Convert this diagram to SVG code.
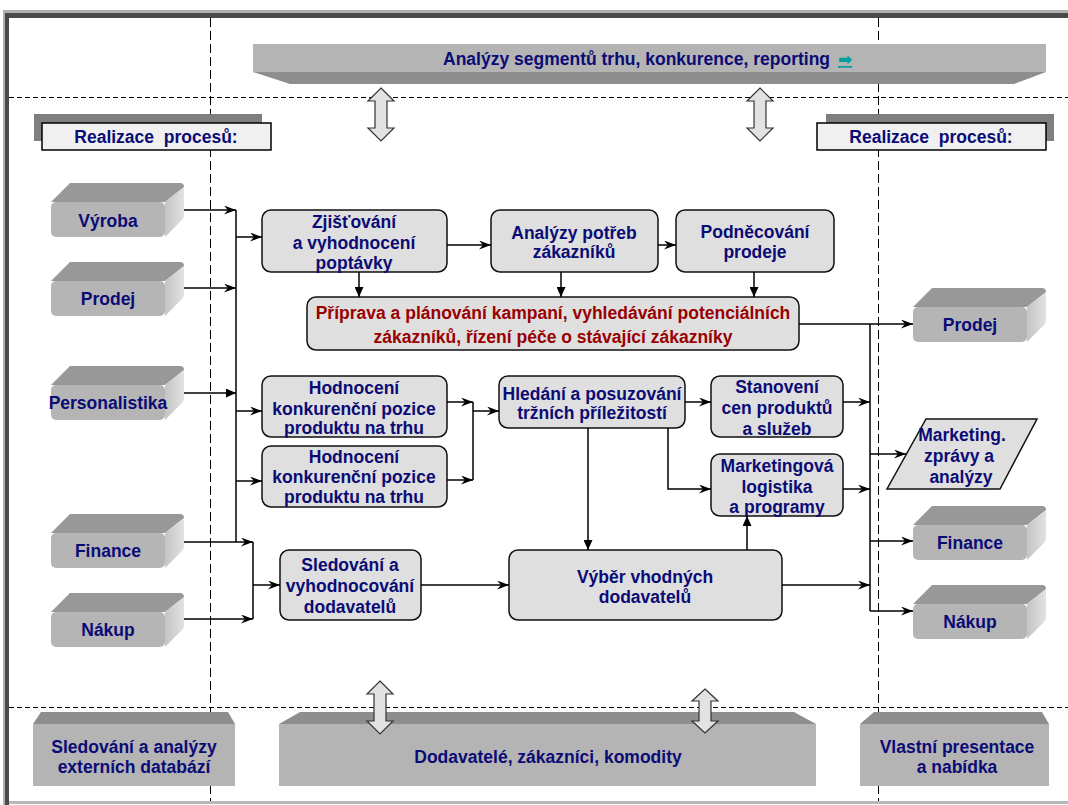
<svg xmlns="http://www.w3.org/2000/svg" width="1068" height="805" viewBox="0 0 1068 805">
<style>
.t{font-family:"Liberation Sans",Arial,sans-serif;font-weight:bold;font-size:17.5px;fill:#0b0b75;text-anchor:middle}
.red{fill:#990000}
.box{fill:#dfdfdf;stroke:#111;stroke-width:1.5}
.ln{fill:none;stroke:#000;stroke-width:1.5}
.arr{marker-end:url(#st)}
.arrt{marker-end:url(#tri)}
.dv{stroke:#000;stroke-width:1;stroke-dasharray:9 4;fill:none;shape-rendering:crispEdges}
.dh{stroke:#000;stroke-width:1;stroke-dasharray:5 3;fill:none;shape-rendering:crispEdges}
.top3{fill:#989898}
.front3{fill:#b5b5b5}
.side3{fill:url(#sg)}
.dbl{fill:#e2e2e2;stroke:#333;stroke-width:1.2}
.bev{fill:#8e8e8e}
.face{fill:#b4b4b4}
.real{fill:#f0f0f0;stroke:#000;stroke-width:1.5}
.shad{fill:#7f7f7f}
</style>
<defs>
<linearGradient id="sg" x1="0" y1="0" x2="1" y2="0">
<stop offset="0" stop-color="#c4c4c4"/>
<stop offset="1" stop-color="#e2e2e2"/>
</linearGradient>
<marker id="st" markerUnits="userSpaceOnUse" markerWidth="13" markerHeight="9" refX="12" refY="4.5" orient="auto">
<path d="M0,0 L12,4.5 L0,9 L4,4.5 Z" fill="#000"/>
</marker>
<marker id="tri" markerUnits="userSpaceOnUse" markerWidth="10" markerHeight="9" refX="10" refY="4.5" orient="auto">
<path d="M0,0 L10,4.5 L0,9 Z" fill="#000"/>
</marker>
<g id="b3d">
<path class="top3" d="M0,19 L19,0 L129,0 Q133,0 133,4 L114,19 Z"/>
<path class="side3" d="M114,19 L133,4 L133,33 Q133,35 131,37 L114,54 Z"/>
<rect class="front3" x="0" y="19" width="114" height="35" rx="5"/>
</g>
<path id="dbl" class="dbl" d="M0,0 L13,13 L6,13 L6,40 L13,40 L0,53 L-13,40 L-6,40 L-6,13 L-13,13 Z"/>
<path id="dbl2" class="dbl" d="M0,0 L13,12 L6,12 L6,32 L13,32 L0,44 L-13,32 L-6,32 L-6,12 L-13,12 Z"/>
</defs>

<rect x="0" y="0" width="1068" height="805" fill="#fff"/>
<g id="frame">
<rect x="3" y="10" width="1065" height="3" fill="#b0b0b0"/>
<rect x="3" y="13" width="1065" height="5" fill="#4a4a4a"/>
<rect x="3" y="10" width="2" height="795" fill="#b0b0b0"/>
<rect x="5" y="13" width="4" height="792" fill="#4a4a4a"/>
<rect x="9" y="801" width="1059" height="3" fill="#b8b8b8"/>
</g>

<g id="guides">
<line class="dv" x1="210.5" y1="18" x2="210.5" y2="801"/>
<line class="dv" x1="878.5" y1="18" x2="878.5" y2="801"/>
<line class="dh" x1="9" y1="97.5" x2="1068" y2="97.5"/>
<line class="dh" x1="9" y1="707.5" x2="1068" y2="707.5"/>
</g>

<g id="banner">
<rect class="face" x="253" y="44" width="793" height="28"/>
<polygon class="bev" points="253,72 1046,72 1014,84 290,84"/>
<text class="t" x="443" y="65" style="text-anchor:start">Analýzy segmentů trhu, konkurence, reporting</text>
<text x="838" y="65" style="font-family:'DejaVu Sans',sans-serif;font-size:17px;fill:#00a0a0;font-weight:bold;text-decoration:underline">➡</text>
</g>

<g id="realizace-left">
<rect class="shad" x="34" y="114" width="228" height="27"/>
<rect class="real" x="42" y="123" width="229" height="27"/>
<text class="t" x="156" y="143">Realizace&#160; procesů:</text>
</g>
<g id="realizace-right">
<rect class="shad" x="826" y="114" width="228" height="27"/>
<rect class="real" x="817" y="123" width="229" height="27"/>
<text class="t" x="931" y="143">Realizace&#160; procesů:</text>
</g>

<g id="l-vyroba"><use href="#b3d" x="51" y="183"/><text class="t" x="108" y="227">Výroba</text></g>
<g id="l-prodej"><use href="#b3d" x="51" y="262"/><text class="t" x="108" y="305">Prodej</text></g>
<g id="l-personalistika"><use href="#b3d" x="51" y="366"/><text class="t" x="108" y="409">Personalistika</text></g>
<g id="l-finance"><use href="#b3d" x="51" y="514"/><text class="t" x="108" y="557">Finance</text></g>
<g id="l-nakup"><use href="#b3d" x="51" y="593"/><text class="t" x="108" y="636">Nákup</text></g>

<g id="r-prodej"><use href="#b3d" x="913" y="288"/><text class="t" x="970" y="331">Prodej</text></g>
<g id="r-finance"><use href="#b3d" x="913" y="506"/><text class="t" x="970" y="549">Finance</text></g>
<g id="r-nakup"><use href="#b3d" x="913" y="585"/><text class="t" x="970" y="628">Nákup</text></g>

<g id="r-marketing">
<polygon class="box" points="926,419 1037,419 1000,489 887,489"/>
<text class="t" x="962" y="441">Marketing.</text>
<text class="t" x="959" y="462">zprávy a</text>
<text class="t" x="961" y="483">analýzy</text>
</g>

<g id="zjistovani">
<rect class="box" x="262" y="210" width="185" height="62" rx="9"/>
<text class="t" x="354" y="228">Zjišťování</text>
<text class="t" x="354" y="249">a vyhodnocení</text>
<text class="t" x="354" y="269">poptávky</text>
</g>
<g id="analyzy">
<rect class="box" x="491" y="210" width="167" height="62" rx="9"/>
<text class="t" x="574" y="239">Analýzy potřeb</text>
<text class="t" x="574" y="258">zákazníků</text>
</g>
<g id="podnecovani">
<rect class="box" x="676" y="210" width="158" height="62" rx="9"/>
<text class="t" x="755" y="238">Podněcování</text>
<text class="t" x="755" y="258">prodeje</text>
</g>
<g id="priprava">
<rect class="box" x="307" y="297" width="492" height="53" rx="9"/>
<text class="t red" x="553" y="319">Příprava a plánování kampaní, vyhledávání potenciálních</text>
<text class="t red" x="553" y="343">zákazníků, řízení péče o stávající zákazníky</text>
</g>
<g id="hodnoceni1">
<rect class="box" x="262" y="376" width="185" height="61" rx="9"/>
<text class="t" x="354" y="394">Hodnocení</text>
<text class="t" x="354" y="415">konkurenční pozice</text>
<text class="t" x="354" y="434">produktu na trhu</text>
</g>
<g id="hodnoceni2">
<rect class="box" x="262" y="446" width="185" height="61" rx="9"/>
<text class="t" x="354" y="463">Hodnocení</text>
<text class="t" x="354" y="483">konkurenční pozice</text>
<text class="t" x="354" y="503">produktu na trhu</text>
</g>
<g id="hledani">
<rect class="box" x="499" y="376" width="186" height="52" rx="9"/>
<text class="t" x="592" y="400">Hledání a posuzování</text>
<text class="t" x="592" y="419">tržních příležitostí</text>
</g>
<g id="stanoveni">
<rect class="box" x="711" y="376" width="132" height="61" rx="9"/>
<text class="t" x="777" y="393">Stanovení</text>
<text class="t" x="777" y="414">cen produktů</text>
<text class="t" x="777" y="435">a služeb</text>
</g>
<g id="logistika">
<rect class="box" x="711" y="454" width="132" height="62" rx="9"/>
<text class="t" x="777" y="472">Marketingová</text>
<text class="t" x="777" y="493">logistika</text>
<text class="t" x="777" y="513">a programy</text>
</g>
<g id="sledovani">
<rect class="box" x="280" y="550" width="141" height="70" rx="9"/>
<text class="t" x="350" y="571">Sledování a</text>
<text class="t" x="350" y="592">vyhodnocování</text>
<text class="t" x="350" y="613">dodavatelů</text>
</g>
<g id="vyber">
<rect class="box" x="509" y="550" width="273" height="70" rx="9"/>
<text class="t" x="645" y="583">Výběr vhodných</text>
<text class="t" x="645" y="603">dodavatelů</text>
</g>

<g id="b-databaze">
<polygon class="bev" points="41,712 228,712 235,724 33,724"/>
<rect class="face" x="33" y="724" width="202" height="62"/>
<text class="t" x="134" y="753">Sledování a analýzy</text>
<text class="t" x="134" y="773">externích databází</text>
</g>
<g id="b-dodavatele">
<polygon class="bev" points="300,712 794,712 816,724 279,724"/>
<rect class="face" x="279" y="724" width="537" height="62"/>
<text class="t" x="548" y="763">Dodavatelé, zákazníci, komodity</text>
</g>
<g id="b-presentace">
<polygon class="bev" points="874,712 1042,712 1049,724 860,724"/>
<rect class="face" x="860" y="724" width="189" height="62"/>
<text class="t" x="957" y="753">Vlastní presentace</text>
<text class="t" x="957" y="773">a nabídka</text>
</g>

<g id="connectors">
<use href="#dbl" x="381" y="88"/>
<use href="#dbl" x="760" y="88"/>
<use href="#dbl" x="380" y="681"/>
<use href="#dbl2" x="705" y="689"/>
<path class="ln arr" d="M184,210 H236"/>
<path class="ln arr" d="M184,288 H236"/>
<path class="ln arrt" d="M184,393 H236"/>
<path class="ln" d="M236,210 V542"/>
<path class="ln arr" d="M236,237 H262"/>
<path class="ln arr" d="M236,411 H262"/>
<path class="ln arr" d="M236,481 H262"/>
<path class="ln arr" d="M184,542 H253"/>
<path class="ln arr" d="M184,619 H253"/>
<path class="ln" d="M253,542 V619"/>
<path class="ln arr" d="M253,585 H280"/>
<path class="ln arr" d="M421,585 H509"/>
<path class="ln arr" d="M447,245 H491"/>
<path class="ln arr" d="M658,245 H676"/>
<path class="ln arrt" d="M359,272 V297"/>
<path class="ln arrt" d="M561,272 V297"/>
<path class="ln arrt" d="M754,272 V297"/>
<path class="ln arr" d="M447,402 H473"/>
<path class="ln arr" d="M447,480 H473"/>
<path class="ln" d="M473,402 V480"/>
<path class="ln arr" d="M473,411 H499"/>
<path class="ln arr" d="M685,402 H711"/>
<path class="ln arrt" d="M588,428 V550"/>
<path class="ln arr" d="M668,428 V489 H711"/>
<path class="ln arrt" d="M747,550 V516"/>
<path class="ln arr" d="M799,324 H913"/>
<path class="ln" d="M870,324 V611"/>
<path class="ln arr" d="M843,402 H870"/>
<path class="ln arr" d="M843,489 H870"/>
<path class="ln arr" d="M870,454 H906"/>
<path class="ln arr" d="M870,541 H913"/>
<path class="ln arr" d="M782,585 H870"/>
<path class="ln arr" d="M870,611 H913"/>
</g>
</svg>
